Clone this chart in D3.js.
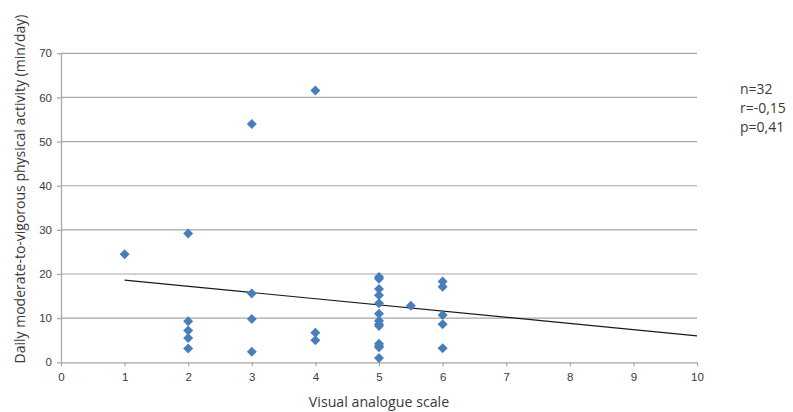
<!DOCTYPE html>
<html><head><meta charset="utf-8">
<script src="https://cdn.jsdelivr.net/npm/d3@7"></script>
<style>
html,body{margin:0;padding:0;background:#fff;}
svg{display:block;font-family:"Open Sans","Noto Sans",sans-serif;}
</style></head><body>
<svg id="c" width="793" height="412"></svg>
<script>
// Data
const vasX = [1, 2,2,2,2,2, 3,3,3,3, 4,4,4, 5,5,5,5,5,5,5,5,5,5,5,5,5, 5.5, 6,6,6,6,6];
const mvpa = [24.5, 29.2,9.3,7.2,5.5,3.1, 54.0,15.6,9.8,2.4, 61.6,6.7,5.0,
              19.3,18.9,16.6,15.2,13.4,11.0,9.4,8.6,8.2,4.2,3.7,3.4,1.0, 12.8,
              18.3,17.1,10.7,8.6,3.2];
const trendX = [1, 10];
const trendY = [18.6, 6.0];
const xTicks = [0,1,2,3,4,5,6,7,8,9,10];
const yTicks = [0,10,20,30,40,50,60,70];
const statsLines = ["n=32", "r=-0,15", "p=0,41"];
const xTitle = "Visual analogue scale";
const yTitle = "Daily moderate-to-vigorous physical activity (min/day)";

const svg = d3.select("#c");
const x = d3.scaleLinear().domain([0,10]).range([61, 697]);
const y = d3.scaleLinear().domain([0,70]).range([362.3, 53.3]);
const grid = "#a6a6a6";
const txt = "#3a3a3a";

// horizontal gridlines
svg.append("g").selectAll("line").data(yTicks.filter(d=>d>0)).join("line")
  .attr("x1", x(0)).attr("x2", x(10))
  .attr("y1", d=>y(d)).attr("y2", d=>y(d))
  .attr("stroke", grid).attr("stroke-width", 1.2);

// y axis
const ya = svg.append("g").attr("transform", `translate(${x(0)},0)`)
  .call(d3.axisLeft(y).tickValues(yTicks).tickSize(4).tickSizeOuter(0));
ya.select(".domain").attr("stroke", grid).attr("stroke-width", 1.2);
ya.selectAll(".tick line").attr("stroke", grid).attr("stroke-width", 1.2);
ya.selectAll(".tick text").attr("font-size", 11.5).attr("fill", txt)
  .attr("x", -9).attr("font-family", "inherit");

// x axis
const xa = svg.append("g").attr("transform", `translate(0,${y(0)})`)
  .call(d3.axisBottom(x).tickValues(xTicks).tickSize(4).tickSizeOuter(0));
xa.select(".domain").attr("stroke", grid).attr("stroke-width", 1.2);
xa.selectAll(".tick line").attr("stroke", grid).attr("stroke-width", 1.2);
xa.selectAll(".tick text").attr("font-size", 11.5).attr("fill", txt)
  .attr("y", 11).attr("font-family", "inherit");

// trend line
svg.append("line")
  .attr("x1", x(trendX[0])).attr("y1", y(trendY[0]))
  .attr("x2", x(trendX[1])).attr("y2", y(trendY[1]))
  .attr("stroke", "#1a1a1a").attr("stroke-width", 1.2);

// points (diamonds)
const sq = d3.symbol().type(d3.symbolSquare).size(50);
svg.append("g").selectAll("path").data(vasX.map((v,i)=>[v, mvpa[i]])).join("path")
  .attr("d", sq)
  .attr("transform", d=>`translate(${x(d[0])},${y(d[1])}) rotate(45)`)
  .attr("fill", "#4a7ebb");

// axis titles
svg.append("text").attr("x", 379).attr("y", 407).attr("text-anchor", "middle")
  .attr("font-size", 14.2).attr("fill", txt).text(xTitle);
svg.append("text").attr("transform", "translate(25,189) rotate(-90)")
  .attr("text-anchor", "middle").attr("font-size", 14).attr("fill", txt).text(yTitle);

// stats
svg.append("g").selectAll("text").data(statsLines).join("text")
  .attr("x", 740).attr("y", (d,i)=>94 + i*19)
  .attr("font-size", 14).attr("fill", txt).text(d=>d);
</script>
</body></html>
